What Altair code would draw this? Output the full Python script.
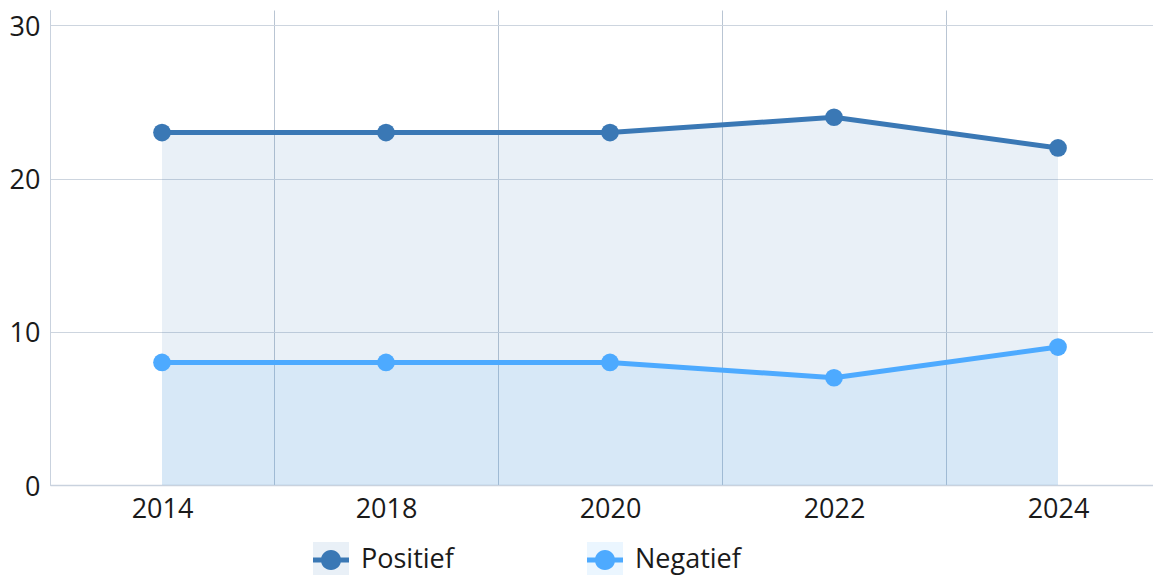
import altair as alt
import pandas as pd

years = ["2014", "2018", "2020", "2022", "2024"]
positief = [23, 23, 23, 24, 22]
negatief = [8, 8, 8, 7, 9]
series = ["Positief", "Negatief"]
colors = ["#3a78b5", "#4daaff"]

rows = []
for name, vals in zip(series, [positief, negatief]):
    for yr, v in zip(years, vals):
        rows.append({"jaar": yr, "reeks": name, "reeks2": name, "waarde": v})
df = pd.DataFrame(rows)

FONT = "Open Sans"
TXT = "#1a1a1a"

x = alt.X(
    "jaar:N",
    sort=years,
    scale=alt.Scale(type="band", paddingInner=0, paddingOuter=0, range=[0, 1120]),
    axis=alt.Axis(
        title=None, labelAngle=0, labelFontSize=27, labelFont=FONT, labelColor=TXT,
        labelPadding=11, ticks=False, grid=True, tickBand="extent",
        gridColor="#b9c5d3", domainColor="#c9d2de", domainWidth=1.5,
    ),
)
y = alt.Y(
    "waarde:Q",
    stack=None,
    scale=alt.Scale(domain=[0, 31], nice=False, zero=True),
    axis=alt.Axis(
        title=None, values=[0, 10, 20, 30], labelFontSize=27, labelFont=FONT,
        labelColor=TXT, labelPadding=10, labelOffset=2, ticks=False, grid=True,
        gridColor="#cdd5df", domainColor="#c9d2de",
    ),
)

common_legend = dict(
    orient="none", legendX=263, legendY=532, direction="horizontal", title=None,
    labelFontSize=27, labelFont=FONT, labelColor=TXT, labelOffset=12,
    columnPadding=133, symbolSize=1296, padding=0, labelLimit=0,
)

base = alt.Chart(df)

area = base.mark_area(opacity=0.11).encode(
    x=x, y=y,
    fill=alt.Fill(
        "reeks2:N", sort=series, scale=alt.Scale(range=colors),
        legend=alt.Legend(symbolType="square", symbolOpacity=0.11,
                          symbolStrokeWidth=0, labelOpacity=0, **common_legend),
    ),
)

line = base.mark_line(strokeWidth=5, strokeJoin="round").encode(
    x=x, y=y,
    stroke=alt.Stroke("reeks:N", sort=series, scale=alt.Scale(range=colors), legend=None),
)

sym = ("M-1,-0.14L1,-0.14L1,0.14L-1,0.14Z "
       "M-0.56,0A0.56,0.56,0,1,1,0.56,0A0.56,0.56,0,1,1,-0.56,0Z")

points = base.mark_point(filled=True, size=314, opacity=1).encode(
    x=x, y=y,
    color=alt.Color(
        "reeks:N", sort=series, scale=alt.Scale(range=colors),
        legend=alt.Legend(symbolType=sym, symbolStrokeWidth=0, symbolOpacity=1,
                          **common_legend),
    ),
)

chart = (
    alt.layer(area, line, points)
    .properties(
        width=1103, height=475,
        autosize=alt.AutoSizeParams(type="none"),
        padding={"left": 42, "top": 2, "right": 0, "bottom": 90},
        background="white",
    )
    .configure_view(stroke=None)
)

chart.save("out.html", embed_options={"renderer": "svg", "actions": False})
